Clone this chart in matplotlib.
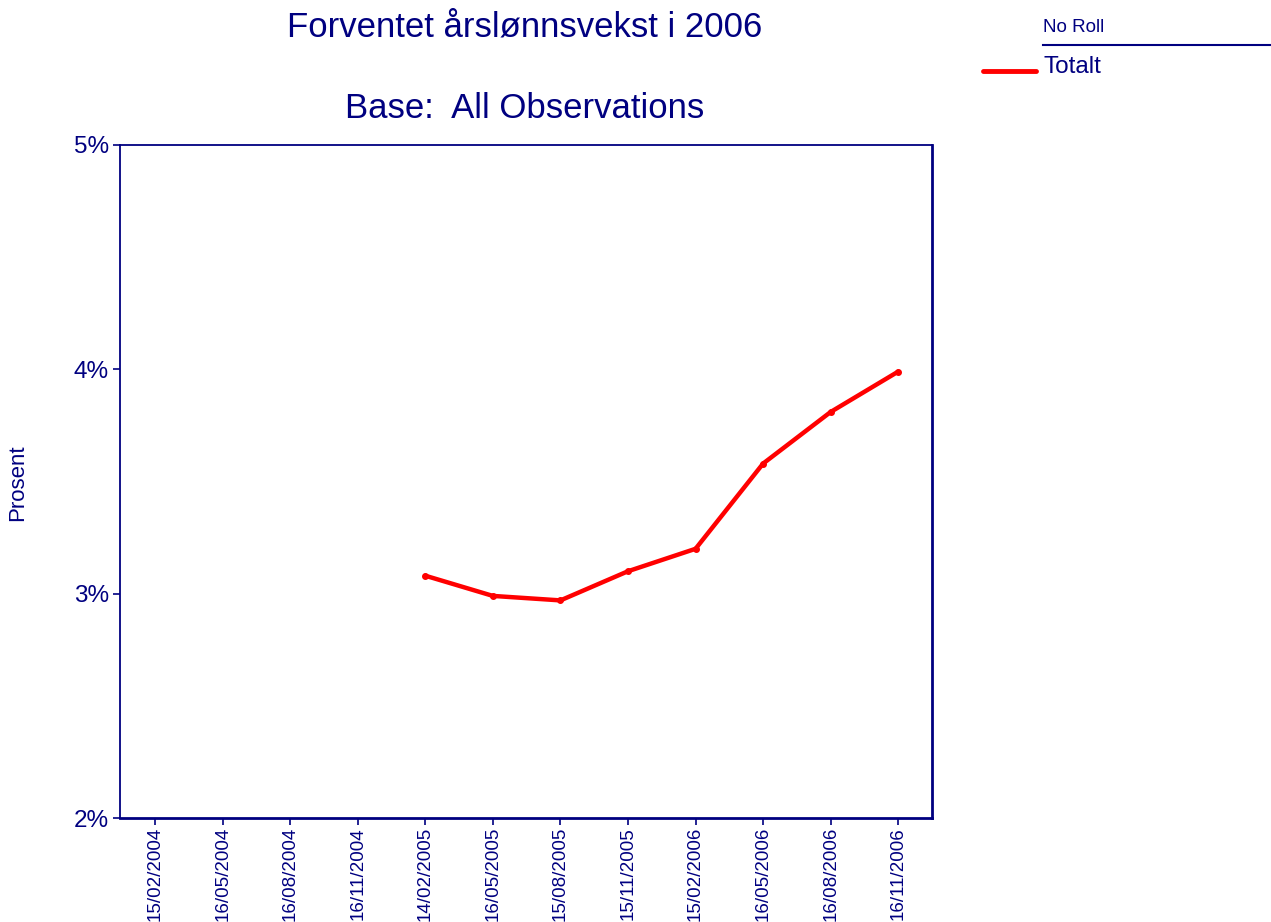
import matplotlib
matplotlib.use("Agg")
import matplotlib.pyplot as plt
import numpy as np

plt.rcParams['font.family'] = ['Liberation Sans', 'DejaVu Sans']

dates = ["15/02/2004", "16/05/2004", "16/08/2004", "16/11/2004", "14/02/2005",
         "16/05/2005", "15/08/2005", "15/11/2005", "15/02/2006", "16/05/2006",
         "16/08/2006", "16/11/2006"]
totalt = [np.nan, np.nan, np.nan, np.nan, 3.08, 2.99, 2.97, 3.10, 3.20, 3.58, 3.81, 3.99]
yticks = [2, 3, 4, 5]
ytick_labels = ["2%", "3%", "4%", "5%"]

navy = "#000080"
W, H = 1271, 922
fig = plt.figure(figsize=(W / 100, H / 100), dpi=100)
ax = fig.add_axes([120 / W, 1 - 818 / H, (932 - 120) / W, (818 - 145) / H])

x = np.arange(len(dates))
ax.plot(x, totalt, color="#ff0000", linewidth=3.2, marker="o", markersize=4,
        solid_capstyle="round", solid_joinstyle="round")

ax.set_xlim(-0.52, len(dates) - 0.5)
ax.set_ylim(2, 5)
ax.set_xticks(x)
ax.set_xticklabels(dates, rotation=90, fontsize=13.5, color=navy)
ax.set_yticks(yticks)
ax.set_yticklabels(ytick_labels, fontsize=17.5, color=navy)
ax.tick_params(axis="both", direction="out", color=navy, length=5, width=1.2)
ax.tick_params(axis="x", pad=1.5)
ax.tick_params(axis="y", pad=3)
for side, sp in ax.spines.items():
    sp.set_color(navy)
    sp.set_linewidth(2.0 if side in ("right", "bottom") else 1.3)

fig.text(525 / W, 1 - 27 / H, "Forventet årslønnsvekst i 2006", ha="center", va="center",
         fontsize=25, color=navy)
fig.text(525 / W, 1 - 108 / H, "Base:  All Observations", ha="center", va="center",
         fontsize=25, color=navy)
fig.text(18 / W, 1 - 483 / H, "Prosent", rotation=90, ha="center", va="center",
         fontsize=16, color=navy)

# legend
fig.text(1043 / W, 1 - 28 / H, "No Roll", ha="left", va="center", fontsize=13.5, color=navy)
fig.add_artist(plt.Line2D([1043 / W, 1271 / W], [1 - 45 / H, 1 - 45 / H], color=navy, linewidth=1.5))
fig.add_artist(plt.Line2D([983 / W, 1036 / W], [1 - 71 / H, 1 - 71 / H], color="#ff0000",
                          linewidth=3.5, solid_capstyle="round"))
fig.text(1043 / W, 1 - 67 / H, "Totalt", ha="left", va="center", fontsize=17.5, color=navy)

fig.savefig("out.png", dpi=100, facecolor="white")
